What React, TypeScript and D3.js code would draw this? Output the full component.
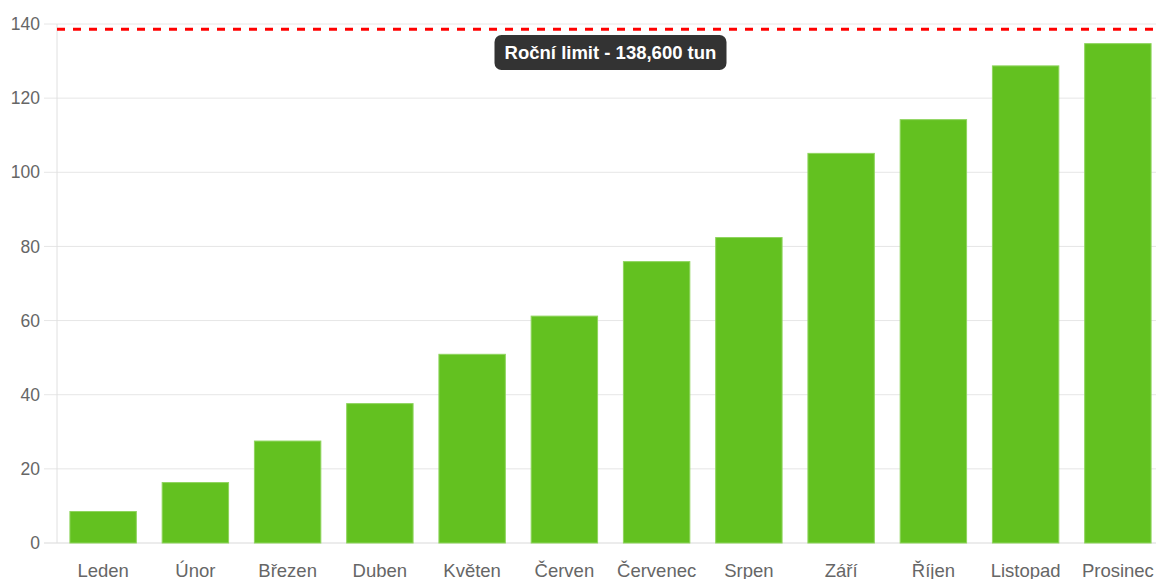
import React from "react";
import * as d3 from "d3";

const months = ["Leden", "Únor", "Březen", "Duben", "Květen", "Červen", "Červenec", "Srpen", "Září", "Říjen", "Listopad", "Prosinec"];
const values = [8.5, 16.3, 27.5, 37.6, 50.9, 61.2, 75.9, 82.4, 105.1, 114.2, 128.7, 134.7];
const yTicks = [0, 20, 40, 60, 80, 100, 120, 140];
const limitValue = 138.6;
const limitLabel = "Roční limit - 138,600 tun";

const W = 1156;
const H = 579;
const left = 57;
const right = 1164;
const top = 24;
const bottom = 543;

export default function App() {
  const x = d3.scaleBand<string>().domain(months).range([left, right]).paddingInner(0).paddingOuter(0);
  const y = d3.scaleLinear().domain([0, 140]).range([bottom, top]);
  const bw = x.bandwidth() * 0.72;
  const font = "'Liberation Sans', Arial, sans-serif";
  const limitY = y(limitValue);
  const labelCx = (left + right) / 2;
  const labelW = 232;
  const labelH = 35;
  return (
    <svg width={W} height={H} style={{ position: "fixed", left: 0, top: 0, background: "#fff" }} fontFamily={font}>
      {yTicks.map((t) => (
        <g key={t}>
          <line x1={44} x2={right} y1={y(t)} y2={y(t)} stroke={t === 0 ? "#d9d9d9" : "#e6e6e6"} strokeWidth={1} />
          <text x={40} y={y(t)} dy="0.35em" textAnchor="end" fontSize={17.5} fill="#666">{t}</text>
        </g>
      ))}
      <line x1={left} x2={left} y1={top} y2={bottom} stroke="#e0e0e0" strokeWidth={1} />
      {months.map((m, i) => {
        const cx = x(m)! + x.bandwidth() / 2;
        return (
          <g key={m}>
            <rect x={cx - bw / 2} y={y(values[i])} width={bw} height={bottom - y(values[i])} fill="#63c120" stroke="#8fd45e" strokeWidth={1} />
            <text x={cx} y={577} textAnchor="middle" fontSize={18.5} fill="#666">{m}</text>
          </g>
        );
      })}
      <line x1={left} x2={right} y1={limitY} y2={limitY} stroke="#ff0000" strokeWidth={3} strokeDasharray="8 8" />
      <rect x={labelCx - labelW / 2} y={35} width={labelW} height={labelH} rx={7} fill="#333" />
      <text x={labelCx} y={35 + labelH / 2} dy="0.36em" textAnchor="middle" fontSize={18.5} fontWeight="bold" fill="#fff">{limitLabel}</text>
    </svg>
  );
}
